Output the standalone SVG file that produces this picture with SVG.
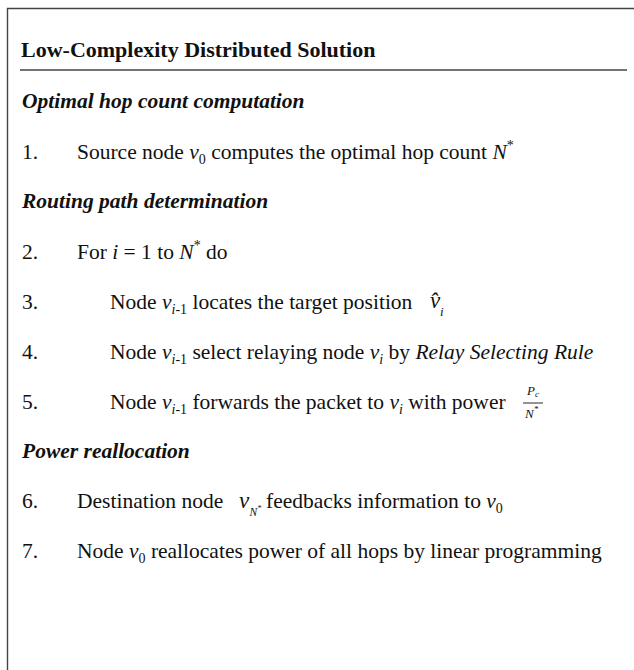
<svg xmlns="http://www.w3.org/2000/svg" width="634" height="670" viewBox="0 0 634 670">
<style>
text{font-family:"Liberation Serif","Times New Roman",serif;font-size:21.5px;fill:#111}
.t{font-weight:bold;font-size:22px}
.h{font-weight:bold;font-style:italic}
.i{font-style:italic}
.s{font-size:14px}
.m{font-style:italic;font-size:23px}
.f{font-style:italic;font-size:13px}
.n{font-style:italic;font-size:11.5px}
.ff{font-size:9px}
.rule{stroke:#444;stroke-width:1.4;fill:none}
</style>
<rect width="634" height="670" fill="#fff"/>
<g id="frame">
<path class="rule" d="M7.5,670 V8.5 H634"/>
<line class="rule" x1="20" y1="70" x2="627" y2="70"/>
</g>
<g id="title"><text class="t" x="21" y="57">Low-Complexity Distributed Solution</text></g>
<g id="sec1"><text class="h" x="22" y="108">Optimal hop count computation</text></g>
<g id="step1">
<text x="22" y="159">1.</text>
<text x="77" y="159">Source node <tspan class="i">v</tspan><tspan class="s" dy="5">0</tspan><tspan dy="-5"> computes the optimal hop count </tspan><tspan class="i">N</tspan><tspan class="s" dy="-9">*</tspan></text>
</g>
<g id="sec2"><text class="h" x="22" y="208">Routing path determination</text></g>
<g id="step2">
<text x="22" y="259">2.</text>
<text x="77" y="259">For <tspan class="i">i</tspan> = 1 to <tspan class="i">N</tspan><tspan class="s" dy="-9">*</tspan><tspan dy="9"> do</tspan></text>
</g>
<g id="step3">
<text x="22" y="309">3.</text>
<text x="110" y="309">Node <tspan class="i">v</tspan><tspan class="s i" dy="5">i</tspan><tspan class="s">-1</tspan><tspan dy="-5"> locates the target position</tspan></text>
<text class="m" x="430" y="308">v&#x302;</text>
<text class="f" x="440" y="316">i</text>
</g>
<g id="step4">
<text x="22" y="359">4.</text>
<text x="110" y="359">Node <tspan class="i">v</tspan><tspan class="s i" dy="5">i</tspan><tspan class="s">-1</tspan><tspan dy="-5"> select relaying node </tspan><tspan class="i">v</tspan><tspan class="s i" dy="5">i</tspan><tspan dy="-5"> by </tspan><tspan class="i">Relay Selecting Rule</tspan></text>
</g>
<g id="step5">
<text x="22" y="409">5.</text>
<text x="110" y="409">Node <tspan class="i">v</tspan><tspan class="s i" dy="5">i</tspan><tspan class="s">-1</tspan><tspan dy="-5"> forwards the packet to </tspan><tspan class="i">v</tspan><tspan class="s i" dy="5">i</tspan><tspan dy="-5"> with power</tspan></text>
<text class="f" x="527" y="395">P<tspan class="ff" dy="2">c</tspan></text>
<line x1="523" y1="403" x2="543" y2="403" stroke="#111" stroke-width="0.9"/>
<text class="f" x="525" y="418">N<tspan class="ff" dy="-6">*</tspan></text>
</g>
<g id="sec3"><text class="h" x="22" y="458">Power reallocation</text></g>
<g id="step6">
<text x="22" y="508">6.</text>
<text x="77" y="508">Destination node</text>
<text class="m" x="239" y="508">v</text>
<text class="n" x="249.5" y="516">N<tspan style="font-size:8px" dy="-5">*</tspan></text>
<text x="266" y="508">feedbacks information to <tspan class="i">v</tspan><tspan class="s" dy="5">0</tspan></text>
</g>
<g id="step7">
<text x="22" y="558">7.</text>
<text x="77" y="558">Node <tspan class="i">v</tspan><tspan class="s" dy="5">0</tspan><tspan dy="-5"> reallocates power of all hops by linear programming</tspan></text>
</g>
</svg>
